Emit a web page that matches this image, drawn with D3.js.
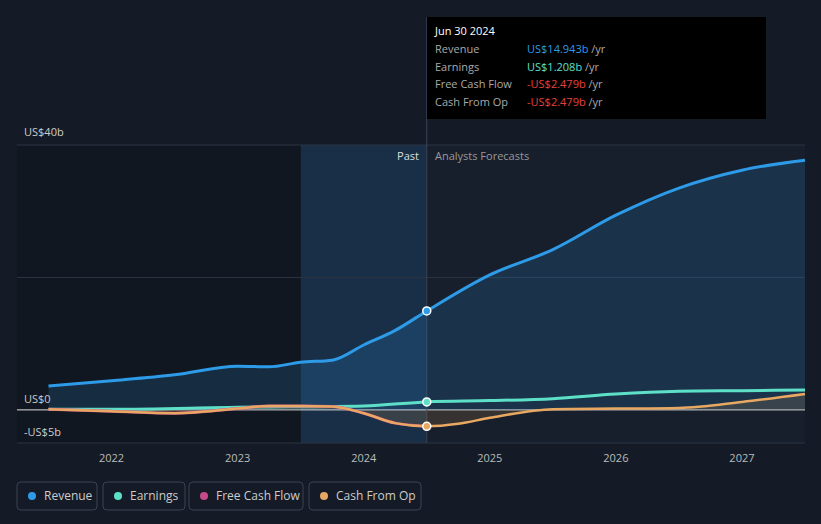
<!DOCTYPE html><html><head><meta charset="utf-8"><script src="https://cdn.jsdelivr.net/npm/d3@7"></script>
<style>body{margin:0;background:#151b26;font-family:"Open Sans",Roboto,sans-serif}</style></head><body><svg id="c" width="821" height="524"></svg>
<script>
const revT=[2021.5,2022,2022.5,2023,2023.25,2023.5,2023.75,2024,2024.25,2024.5,2025,2025.5,2026,2026.5,2027,2027.5];
const revV=[3.6,4.4,5.3,6.6,6.5,7.2,7.5,9.8,12,14.943,20.4,24.2,29.4,33.5,36.2,37.7];
const earnT=[2021.5,2022,2023,2024,2024.5,2025,2025.5,2026,2026.5,2027,2027.5];
const earnV=[0.1,0.1,0.4,0.6,1.208,1.4,1.7,2.4,2.8,2.9,3.0];
const cfT=[2021.5,2022,2022.5,2023,2023.25,2023.5,2023.75,2024,2024.25,2024.5,2024.75,2025,2025.5,2026,2026.5,2027,2027.5];
const cfV=[0.1,-0.2,-0.5,0.2,0.6,0.6,0.5,-0.5,-2.0,-2.479,-2.1,-1.2,0.1,0.2,0.3,1.2,2.4];
const fcfN=10;
const yearTicks=[2022,2023,2024,2025,2026,2027];
const svg=d3.select("#c");
const x=d3.scaleLinear().domain([2021.25,2027.5]).range([17,805]);
const y=d3.scaleLinear().domain([-5,40]).range([443,145]);
const now=2024.5;
svg.append("rect").attr("x",x(2023.5)).attr("y",145).attr("width",x(now)-x(2023.5)).attr("height",298).attr("fill","#1a3550").attr("opacity",0.8);
svg.append("rect").attr("x",x(now)).attr("y",145).attr("width",805-x(now)).attr("height",298).attr("fill","#171f2c");
svg.append("rect").attr("x",17).attr("y",145).attr("width",x(2023.5)-17).attr("height",298).attr("fill","#111720");
[40,20,0].forEach(v=>svg.append("line").attr("x1",17).attr("x2",805).attr("y1",y(v)).attr("y2",y(v)).attr("stroke",v==0?"#ddd":"#2c3442").attr("stroke-width",1));
svg.append("line").attr("x1",17).attr("x2",805).attr("y1",443).attr("y2",443).attr("stroke","#2c3442");
svg.append("line").attr("x1",x(now)).attr("x2",x(now)).attr("y1",17).attr("y2",443).attr("stroke","#3a4556");
const L=(T,V)=>d3.line().x((d,i)=>x(T[i])).y(d=>y(d)).curve(d3.curveMonotoneX)(V);
const A=(T,V)=>d3.area().x((d,i)=>x(T[i])).y0(y(0)).y1(d=>y(d)).curve(d3.curveMonotoneX)(V);
svg.append("path").attr("d",A(revT,revV)).attr("fill","#2d8fd8").attr("opacity",0.18);
svg.append("path").attr("d",A(cfT,cfV)).attr("fill","#e8a050").attr("opacity",0.15);
svg.append("path").attr("d",L(revT,revV)).attr("fill","none").attr("stroke","#2d9be8").attr("stroke-width",3);
svg.append("path").attr("d",L(earnT,earnV)).attr("fill","none").attr("stroke","#5ee0c8").attr("stroke-width",3);
svg.append("path").attr("d",L(cfT.slice(0,fcfN),cfV.slice(0,fcfN))).attr("fill","none").attr("stroke","#c84a8a").attr("stroke-width",3);
svg.append("path").attr("d",L(cfT,cfV)).attr("fill","none").attr("stroke","#e8a862").attr("stroke-width",2.5);
[[14.943,"#2d9be8"],[1.208,"#5ee0c8"],[-2.479,"#e8a862"]].forEach(([v,c])=>svg.append("circle").attr("cx",x(now)).attr("cy",y(v)).attr("r",4).attr("fill",c).attr("stroke","#fff").attr("stroke-width",1.5));
const t=(X,Y,s,o)=>svg.append("text").attr("x",X).attr("y",Y).text(s).attr("fill",o.c||"#ccc").attr("font-size",o.s||11).attr("text-anchor",o.a||"start");
t(24,136,"US$40b",{});t(24,403,"US$0",{});t(24,436,"-US$5b",{});
t(419,160,"Past",{a:"end",c:"#ddd"});t(435,160,"Analysts Forecasts",{c:"#999"});
yearTicks.forEach(v=>t(x(v),462,v,{a:"middle",c:"#bbb"}));
svg.append("rect").attr("x",427).attr("y",17).attr("width",339).attr("height",102).attr("fill","#000");
t(435,35,"Jun 30 2024",{c:"#fff"});
[["Revenue","US$14.943b","#2d9be8"],["Earnings","US$1.208b","#5ee0c8"],["Free Cash Flow","-US$2.479b","#e8413b"],["Cash From Op","-US$2.479b","#e8413b"]].forEach((r,i)=>{
 t(435,53+i*17.5,r[0],{c:"#aaa"});
 const tx=svg.append("text").attr("x",527).attr("y",53+i*17.5).attr("font-size",11);
 tx.append("tspan").text(r[1]).attr("fill",r[2]);tx.append("tspan").text(" /yr").attr("fill","#aaa");});
const leg=[["Revenue","#2d9be8",17,80],["Earnings","#5ee0c8",103,82],["Free Cash Flow","#c84a8a",189,114],["Cash From Op","#e8a862",309,112]];
leg.forEach(([n,c,lx,w])=>{svg.append("rect").attr("x",lx).attr("y",482).attr("width",w).attr("height",28).attr("rx",4).attr("fill","none").attr("stroke","#3a4352");
 svg.append("circle").attr("cx",lx+15).attr("cy",496).attr("r",4).attr("fill",c);t(lx+27,500,n,{c:"#ccc",s:12});});
</script></body></html>
